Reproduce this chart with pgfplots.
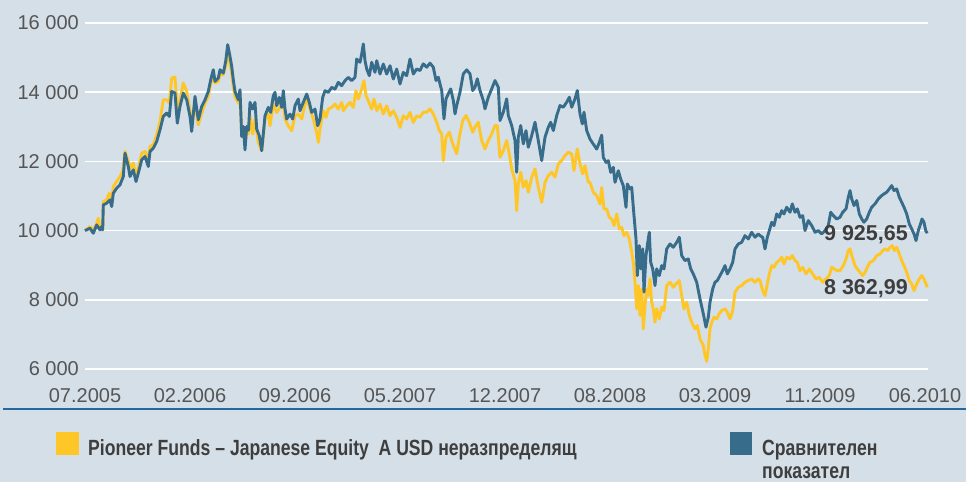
\documentclass[border=0pt]{standalone}
\usepackage{fontspec}
\setmainfont{Liberation Sans}
\newfontfamily\legfont[FakeStretch=0.8]{Liberation Sans}
\usepackage{pgfplots}
\usepackage{pgfplotstable}
\pgfplotsset{compat=1.18}
\definecolor{bg}{RGB}{213,223,231}
\definecolor{fundc}{RGB}{255,198,39}
\definecolor{benchc}{RGB}{55,108,138}
\definecolor{tickc}{RGB}{85,85,85}
\definecolor{labc}{RGB}{62,62,62}
\definecolor{rulec}{RGB}{35,105,160}

\pgfplotstableread{
x y
0 10000
5 10068
8.3 9923
11.7 10164
15 10020
16.7 10116
17.7 10020
18.3 10743
21.7 10791
25 10888
26.7 10695
28.3 11081
31.7 11225
35 11322
38.3 11563
40 12238
43.3 11852
45 11563
48.3 11756
51 11418
53.3 11659
56.7 12045
60 12142
63.3 11852
65 12286
68.3 12383
71.7 12576
75 12913
78.3 13299
81.7 13396
84.3 13299
86.7 14022
90 13974
92.3 13106
95 13589
98.3 13974
101.7 13781
105 13299
106.7 12865
110 13878
113.3 13203
116.7 13589
120 13781
123.3 14022
125.7 14360
128.3 14649
130 14312
133.3 14408
135 14649
138.3 14553
140.7 14891
142.7 15373
145 15035
146.7 14746
148.3 14360
150 14022
153.3 13781
155 14071
156.7 12720
158.3 13010
160 12335
161.7 13010
163.5 12900
165 13706
167.7 13513
170 13706
171.7 12934
174.3 12742
176.7 12308
178.3 12790
180 13320
183.3 13561
185.7 13416
188.3 13898
190 13995
191.7 13609
194.3 13850
196.7 13561
198.3 14043
200 13513
201.7 13224
205 13368
207.7 13224
210 13609
213.3 13802
215 13465
218.3 13706
221.7 13947
224.3 13706
226.7 13416
230 13513
232.7 13031
235 13224
237.7 13850
240 14043
243.3 13995
246.7 14140
250 14091
253.3 14284
256.7 14188
260 14332
263.3 14429
266.7 14332
270 14429
271.7 14959
275 14863
276.7 15104
278.3 15393
280 14911
281.7 14670
284.3 14477
286.7 14863
290 14573
291.7 14911
295 14525
298.3 14814
301.7 14525
305 14766
308.3 14380
311.7 14670
315 14236
318.3 14573
321.7 14477
325 14959
328.3 14525
331.7 14670
335 14627
338.3 14819
341.7 14723
345 14839
348.3 14723
351 14337
353.3 14434
356.7 14048
359 13229
361 13807
363.3 13952
365.7 14096
368.3 13759
370 13373
371.7 13614
375 14000
378.3 14530
381.7 14646
385 14530
387.7 14048
390 14145
392.3 14386
395 14048
398.3 13759
400 13518
403.3 13855
406.7 14096
410 14337
413.3 14145
415 13181
418.3 13422
421.7 13807
423.3 13325
426.7 13036
430 12602
431.7 11686
433.3 12699
435.7 13036
438.3 12506
441 12891
443.3 12409
446.7 12747
450 13132
453.3 12602
456.7 12024
460 12699
463.3 12988
465.7 13132
468.3 12891
471.7 13325
475 13614
478.3 13566
481.7 13711
484.3 13855
486.7 13566
490 13807
492.3 14048
495 13373
497.3 13084
499 13422
501.7 12891
505 12645
508.3 12500
511.7 12356
514.3 12548
516.7 12760
518.3 12115
521 11971
523.3 12019
525.7 11683
528.3 11827
530 11394
533.3 11731
535.7 11490
538.3 11298
541 10672
542.3 11346
545 11202
546.7 11250
549 10432
551 9759
552.3 8700
554.3 9566
555.7 8893
557.7 9470
559 8220
561 9278
562.3 9566
564.3 9951
565.7 9085
567.7 8893
570 8412
571.7 8893
574.3 8700
576.7 8989
579 8893
581.7 9470
585 9614
588.3 9518
591.7 9662
594.3 9807
596.7 9278
600 9133
603.3 9181
605.7 8893
608.3 8748
611.7 8508
615 8027
618.3 7594
621 7209
623.3 7498
625 7931
627.7 8316
630 8508
632.3 8556
635 8700
637.7 8845
640 8989
642.3 8748
645 8893
647.7 9085
650 9470
653.3 9614
656.7 9662
660 9855
663.3 9759
666.7 9951
670 9807
673.3 9903
675 9855
677.7 9807
680 9470
682.3 9807
684.3 10000
686.7 10241
689 10145
691.7 10482
694.3 10386
696.7 10578
699 10482
701.7 10675
705 10530
707.3 10771
710 10530
712.3 10627
715 10386
717.7 10434
720 10000
723.3 10289
726.7 10145
730 9952
733.3 10000
736.7 9904
740 10000
743.3 10145
745.7 10530
748.3 10434
751.7 10337
755 10386
757.7 10530
761 10627
763.3 10964
765 11157
766.7 10916
769 10723
771.7 10868
774.3 10482
776.7 10337
779 10241
781.7 10337
784.3 10530
786.7 10675
790 10771
793.3 10916
796.7 11012
799 11060
801.7 11109
804.3 11205
806.7 11301
809 11157
811.7 11205
814.3 10964
816.7 10819
819 10675
821.7 10482
824.3 10193
826.7 10048
829 9904
831 9711
833.3 10000
835 10145
837 10337
839 10241
840.7 10000
842.3 9926
}\bench

\pgfplotstableread{
x y
0 10000
5 10116
8.3 10000
11.7 10212
13.3 10357
15 10068
17.7 10068
18.3 10839
21.7 10888
24.3 11081
26.7 10839
28.3 11273
31.7 11418
35 11563
37.7 11707
40 12286
43.3 11997
45.7 11804
48.3 11949
51 11563
53.3 11804
56.7 12238
60 12286
63.3 12045
65 12431
68.3 12479
71.7 12769
75 13154
78.3 13781
81.7 13781
84.3 13685
86.7 14408
90 14437
92.3 13492
95 13781
98.3 14264
101.7 14022
105 13444
106.7 13106
110 13685
113.3 13058
116.7 13396
120 13685
123.3 13878
125.7 14264
128.3 14457
130 14264
133.3 14312
135 14505
138.3 14505
140.7 14746
142.7 15180
145 14842
146.7 14553
148.3 14167
150 13878
153.3 13685
155 13926
156.7 12817
158.3 13010
160 12479
161.7 12913
163.5 12800
165 13320
167.7 12790
170 13224
173.3 12549
176.7 12308
180 13224
183.3 13368
185 13031
188.3 13657
191.7 13416
195 13561
198.3 13706
200 13224
203.3 13031
206.7 12886
210 13320
213.3 13368
216.7 13224
220 13657
222.3 13802
225 13513
228.3 13224
231.7 12838
233.3 12549
235 12934
238.3 13465
241 13272
243.3 13513
246.7 13561
250 13657
253.3 13513
256.7 13706
258.3 13465
261.7 13609
265 13706
268.3 13561
271 14043
273.3 13802
276.7 14091
279 14332
281 13898
283.3 13754
286.7 13513
289 13802
291.7 13465
295 13657
298.3 13368
301.7 13609
305 13320
308.3 13465
311.7 13272
315 12983
318.3 13320
321.7 13224
325 13416
328.3 13127
331.7 13320
335 13277
338.3 13422
341.7 13422
345 13518
348.3 13373
351.7 13132
354.3 12891
356.7 12795
358.3 12024
361 12699
364.3 12843
366.7 12602
369 12409
371.7 12217
374.3 12699
377.7 13181
381 13325
384.3 13132
387.7 12843
390 12988
393.3 13132
396.7 12602
400 12361
403.3 12602
406.7 12795
410 13036
412.3 13036
415 12120
418.3 12313
421.7 12602
424.3 12217
426.7 11783
430 11445
431.7 10578
433.3 11349
435.7 11686
438.3 11253
441 11445
443.3 11108
446.7 11542
450 11783
453.3 11253
456.7 10819
460 11397
463.3 11590
466.7 11686
470 11542
473.3 11927
476.7 12024
480 12168
483.3 12265
486.7 12217
489 11735
492.3 12361
495 11927
497.7 11638
500 11879
503.3 11397
505 11394
508.3 11105
511.7 11009
515 10769
516.7 11250
519 10624
521.7 10624
524.3 10384
526.7 10336
529 10143
531.7 10480
534.3 10047
536.7 10095
539 9855
541.7 9951
544.3 9759
546.7 9374
548.3 9085
550 8508
551.7 7738
553.3 8412
555 7546
556.7 8316
558.3 7161
560 7835
561.7 8316
563.3 8123
565 8604
566.7 7931
568.3 7738
570 7354
571.7 7738
574.3 7450
576.7 7787
579 7690
581.7 8412
585 8508
588.3 8364
591 8460
594.3 8556
596.7 8123
599 7738
601.7 7931
604.3 7546
606.7 7354
610 7161
612.3 7257
615 6872
618.3 6680
620 6400
621.7 6220
623.3 6600
625 7161
626.7 7354
629 7498
631.7 7450
634.3 7594
636.7 7690
640 7738
642.3 7642
645 7450
647.7 7690
650 8220
653.3 8364
656.7 8412
660 8508
663.3 8556
666.7 8604
670 8508
673.3 8604
675 8554
677.7 8265
680 8120
682.3 8458
684.3 8747
686.7 8988
689 8940
691.7 9084
694.3 9132
696.7 9229
699 9036
701.7 9229
705 9181
707.3 9277
710 9132
712.3 9084
715 8843
717.7 8940
721 8747
724.3 8891
727.7 8747
731 8602
734.3 8650
737.7 8506
741 8602
744.3 8699
746.7 8940
749 8891
751.7 8843
755 8843
758.3 8988
761 9181
763.3 9422
765 9470
767.3 9229
770 8988
772.3 8891
775 8795
777.7 8699
780 8795
782.3 8940
785 9084
788.3 9132
791.7 9277
795 9325
797.7 9422
800 9470
802.7 9422
805 9518
807.3 9566
809.3 9422
811.7 9518
814.3 9325
816.7 9132
819 8988
821.7 8795
824.3 8554
826.7 8458
829 8265
831.7 8458
834.3 8602
836.7 8699
839 8602
841 8458
842.3 8363
}\fund

\begin{document}
\begin{tikzpicture}
\fill[bg] (0pt,0pt) rectangle (966pt,482pt);
\path[use as bounding box] (0pt,0pt) rectangle (966pt,482pt);
\begin{axis}[
  at={(85pt,113pt)}, anchor=south west,
  scale only axis, width=843pt, height=346pt,
  xmin=0, xmax=843, ymin=6000, ymax=16000,
  scaled y ticks=false, scaled x ticks=false,
  axis line style={draw=none},
  major tick length=0pt,
  ymajorgrids,
  major grid style={white, line width=1.6pt},
  ytick={6000,8000,10000,12000,14000,16000},
  yticklabels={6 000,8 000,10 000,12 000,14 000,16 000},
  xtick={0,105,210,315,420,525,630,735,840},
  xticklabels={07.2005,02.2006,09.2006,05.2007,12.2007,08.2008,03.2009,11.2009,06.2010},
  ticklabel style={font=\fontsize{20}{23}\selectfont, text=tickc, inner sep=0pt},
  yticklabel style={anchor=east, xshift=-6pt},
  xticklabel style={anchor=north, yshift=-19pt},
  clip=false,
]
\addplot[fundc, line width=2.9pt, line join=round] table[x=x,y=y] {\fund};
\addplot[benchc, line width=2.9pt, line join=round] table[x=x,y=y] {\bench};
\node[anchor=base east, inner sep=0pt, text=labc, font=\fontsize{21.5}{24}\selectfont\bfseries] at (axis cs:823,9728) {9 925,65};
\node[anchor=base east, inner sep=0pt, text=labc, font=\fontsize{21.5}{24}\selectfont\bfseries] at (axis cs:823,8139) {8 362,99};
\end{axis}
\draw[rulec, line width=1.3pt] (3pt,73pt) -- (966pt,73pt);
\fill[fundc] (56pt,27pt) rectangle (79pt,50pt);
\node[anchor=base west, inner sep=0pt, text=labc, font=\legfont\bfseries\fontsize{22}{26}\selectfont] at (88pt,27pt) {Pioneer Funds – Japanese Equity\ \ A USD неразпределящ};
\fill[benchc] (730pt,27pt) rectangle (752pt,50pt);
\node[anchor=base west, inner sep=0pt, text=labc, font=\legfont\bfseries\fontsize{22}{26}\selectfont] at (762pt,27pt) {Сравнителен};
\node[anchor=base west, inner sep=0pt, text=labc, font=\legfont\bfseries\fontsize{22}{26}\selectfont] at (762pt,4pt) {показател};
\end{tikzpicture}
\end{document}
